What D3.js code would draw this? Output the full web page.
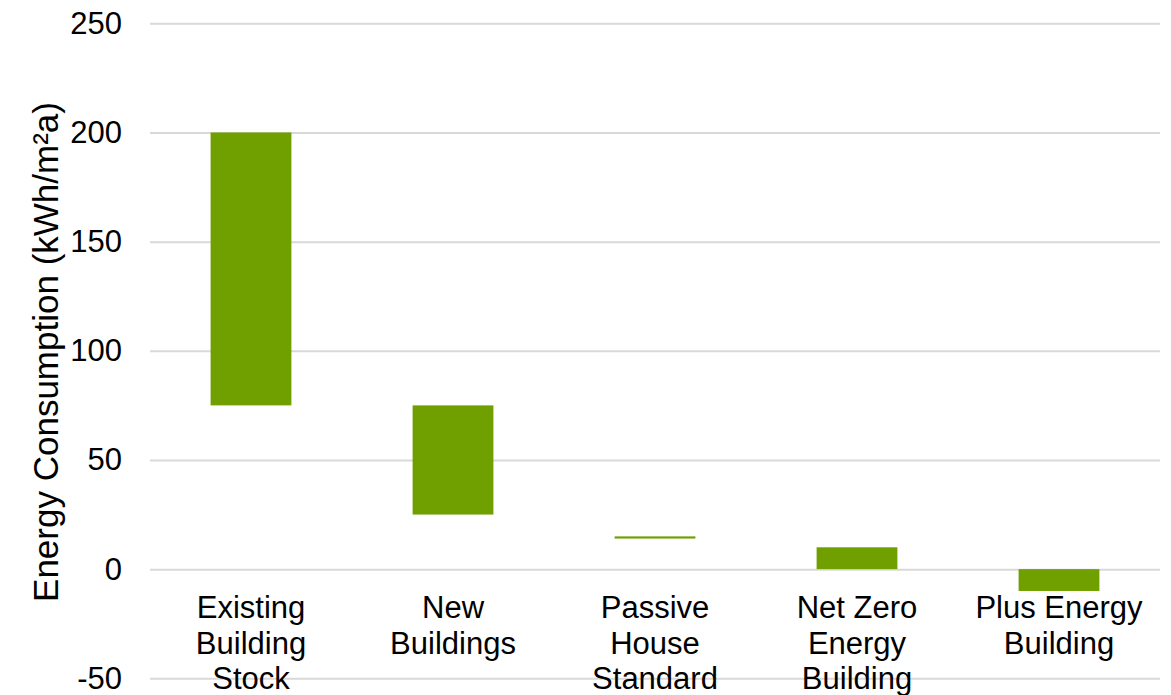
<!DOCTYPE html>
<html>
<head>
<meta charset="utf-8">
<script src="https://cdn.jsdelivr.net/npm/d3@7"></script>
<style>
  html, body { margin: 0; padding: 0; background: #ffffff; }
  svg { display: block; }
  text { font-family: "Liberation Sans", Arial, sans-serif; fill: #000000; }
</style>
</head>
<body>
<svg id="chart" width="1171" height="695"></svg>
<script>
// Building types and their energy consumption ranges (kWh/m²a)
const categories = [
  ["Existing", "Building", "Stock"],
  ["New", "Buildings"],
  ["Passive", "House", "Standard"],
  ["Net Zero", "Energy", "Building"],
  ["Plus Energy", "Building"]
];
const lowValues  = [75, 25, 14, 0, -10];
const highValues = [200, 75, 15, 10, 0];
const yTicks = [-50, 0, 50, 100, 150, 200, 250];
const yTitle = "Energy Consumption (kWh/m²a)";

const svg = d3.select("#chart");
const plot = { left: 150, right: 1160, top: 23.3, bottom: 678.3 };

const keys = categories.map(c => c.join(" "));
const x = d3.scaleBand()
  .domain(keys)
  .range([plot.left, plot.right])
  .paddingInner(0.6)
  .paddingOuter(0.3);

const y = d3.scaleLinear()
  .domain([-50, 250])
  .range([plot.bottom, plot.top]);

// Horizontal gridlines and value labels (plain hyphen for negatives)
const yAxis = svg.append("g")
  .attr("transform", `translate(${plot.left},0)`)
  .call(d3.axisLeft(y).tickValues(yTicks).tickSize(-(plot.right - plot.left)).tickPadding(28).tickFormat(d => String(d)));
yAxis.select(".domain").remove();
yAxis.selectAll(".tick line").attr("stroke", "#d9d9d9").attr("stroke-width", 2);
yAxis.selectAll(".tick text")
  .style("font-family", "'Liberation Sans', Arial, sans-serif")
  .attr("font-size", 31)
  .attr("fill", "#000");

// Floating bars
const data = keys.map((k, i) => ({ key: k, lo: lowValues[i], hi: highValues[i] }));
svg.append("g").selectAll("rect")
  .data(data)
  .join("rect")
  .attr("x", d => x(d.key))
  .attr("width", x.bandwidth())
  .attr("y", d => y(d.hi))
  .attr("height", d => Math.max(1, y(d.lo) - y(d.hi)))
  .attr("fill", "#70a000");

// Category labels (multi-line)
const xAxis = svg.append("g")
  .attr("transform", `translate(0,${y(0)})`)
  .call(d3.axisBottom(x).tickSize(0).tickFormat(""));
xAxis.select(".domain").remove();
xAxis.selectAll(".tick").each(function(d, i) {
  const t = d3.select(this).append("text")
    .attr("text-anchor", "middle")
    .attr("font-size", 31)
    .attr("fill", "#000")
    .style("font-family", "'Liberation Sans', Arial, sans-serif");
  categories[i].forEach((line, j) => {
    t.append("tspan").attr("x", 0).attr("y", 49 + j * 35.5).text(line);
  });
});

// Axis title
svg.append("text")
  .attr("transform", `translate(45,352) rotate(-90)`)
  .attr("text-anchor", "middle")
  .attr("dominant-baseline", "central")
  .attr("font-size", 35)
  .text(yTitle);
</script>
</body>
</html>
